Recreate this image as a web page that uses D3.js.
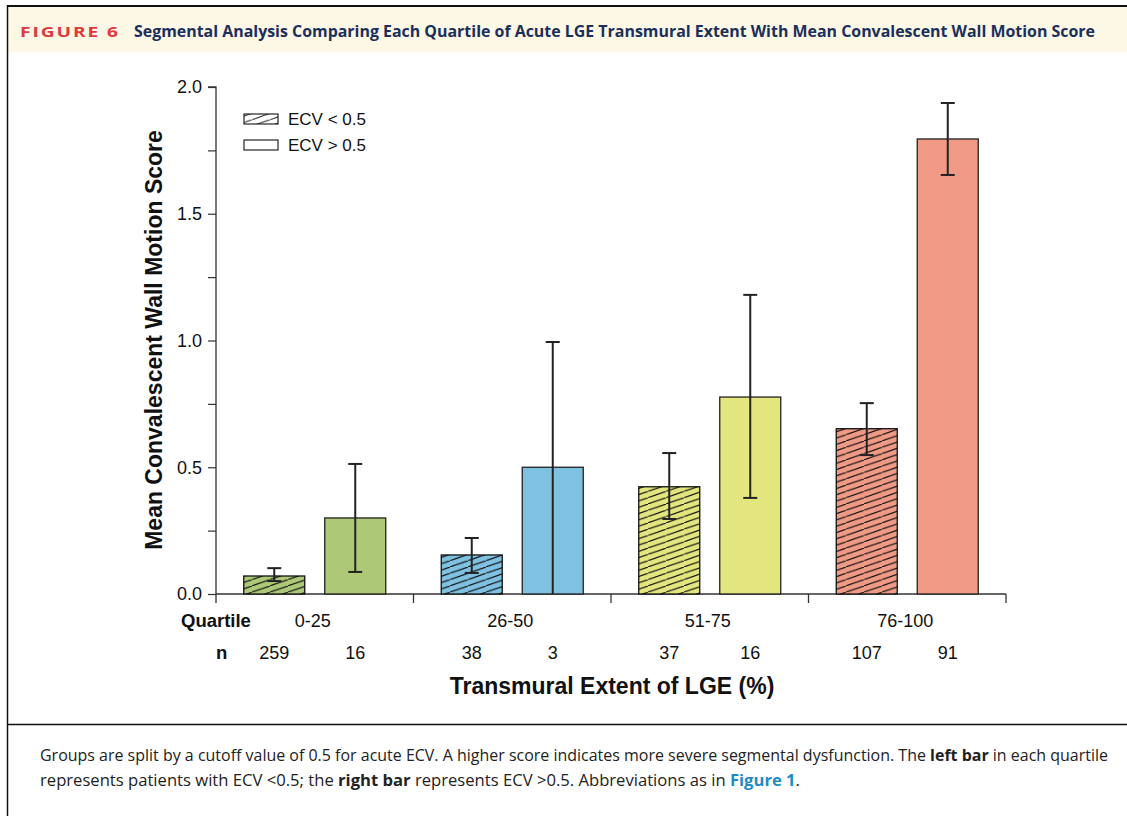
<!DOCTYPE html>
<html><head><meta charset="utf-8">
<script src="https://cdn.jsdelivr.net/npm/d3@7/dist/d3.min.js"></script>
<style>
html,body{margin:0;padding:0;background:#fff;}
svg{display:block;}
</style></head>
<body>
<script>
const quartiles = ["0-25","26-50","51-75","76-100"];
const groupColors = ["#adc977","#7ec1e1","#e3e67e","#f09a86"];
const lowMean = [0.071, 0.154, 0.423, 0.652];
const lowErrLo = [0.051, 0.083, 0.296, 0.548];
const lowErrHi = [0.102, 0.221, 0.556, 0.753];
const highMean = [0.300, 0.500, 0.777, 1.795];
const highErrLo = [0.087, 0.000, 0.379, 1.653];
const highErrHi = [0.513, 0.994, 1.180, 1.937];
const lowN = [259, 38, 37, 107];
const highN = [16, 3, 16, 91];
const yTicks = [0, 0.5, 1.0, 1.5, 2.0];
const yMinorTicks = [0.25, 0.75, 1.25, 1.75];

const W = 1127, H = 816;
const svg = d3.select("body").append("svg").attr("width", W).attr("height", H);
const defs = svg.append("defs");

// frame
svg.append("rect").attr("x",7).attr("y",6).attr("width",W-7).attr("height",46).attr("fill","#fdf7e6");
svg.append("line").attr("x1",7).attr("x2",W).attr("y1",6).attr("y2",6).attr("stroke","#111").attr("stroke-width",2);
svg.append("line").attr("x1",7.5).attr("x2",7.5).attr("y1",5).attr("y2",H).attr("stroke","#111").attr("stroke-width",1.5);
svg.append("line").attr("x1",7).attr("x2",W).attr("y1",724.5).attr("y2",724.5).attr("stroke","#111").attr("stroke-width",1.5);

// title
svg.append("text").attr("x",20).attr("y",37).attr("font-family","'Open Sans', 'Noto Sans', sans-serif").attr("font-weight","bold")
  .attr("fill","#e2383e").attr("font-size",15).attr("letter-spacing",1.5)
  .attr("textLength",100).attr("lengthAdjust","spacingAndGlyphs").text("FIGURE 6");
svg.append("text").attr("x",134).attr("y",37).attr("font-family","'Open Sans', 'Noto Sans', sans-serif")
  .attr("font-weight","bold").attr("font-size",16).attr("fill","#1b2f5c")
  .attr("textLength",961).attr("lengthAdjust","spacingAndGlyphs")
  .text("Segmental Analysis Comparing Each Quartile of Acute LGE Transmural Extent With Mean Convalescent Wall Motion Score");

// scales
const x0 = 216, x1 = 1006;
const xG = d3.scaleBand().domain(quartiles).range([x0, x1]).paddingInner(0).paddingOuter(0);
const xS = d3.scaleBand().domain(["low","high"]).range([0, xG.bandwidth()]).paddingInner(0.247).paddingOuter(0.3426);
const y = d3.scaleLinear().domain([0, 2]).range([594, 87]);

// hatch patterns (shallow lines rising to the right)
const TW = 18, TH = 6.3;
function addHatch(id, fill, sw){
  const p = defs.append("pattern").attr("id",id).attr("patternUnits","userSpaceOnUse")
    .attr("width",TW).attr("height",TH);
  p.append("rect").attr("width",TW).attr("height",TH).attr("fill",fill);
  [-1,0,1].forEach(k=>{
    p.append("line").attr("x1",0+k*TW).attr("y1",TH+(-k)*TH).attr("x2",TW+k*TW).attr("y2",0+(-k)*TH)
      .attr("stroke","#111").attr("stroke-width",sw);
  });
}
quartiles.forEach((q,i)=> addHatch("hatch"+i, groupColors[i], 1.1));
addHatch("hatchL", "#fff", 1.0);

const font = "'Liberation Sans', Arial, Helvetica, sans-serif";

// y axis
const yAxis = d3.axisLeft(y).tickValues(yTicks).tickFormat(d3.format(".1f")).tickSize(8).tickPadding(6);
const ga = svg.append("g").attr("transform",`translate(${x0},0)`).call(yAxis);
ga.select(".domain").attr("stroke","#333").attr("stroke-width",1.3).attr("d",`M-8,${y(2)}H0V${y(0)+0}`);
ga.selectAll(".tick line").attr("stroke","#333").attr("stroke-width",1.2);
ga.selectAll(".tick text").attr("font-family",font).attr("font-size",18).attr("fill","#111");
const gm = svg.append("g").attr("transform",`translate(${x0},0)`).call(d3.axisLeft(y).tickValues(yMinorTicks).tickSize(8).tickFormat(""));
gm.select(".domain").remove();
gm.selectAll(".tick line").attr("stroke","#333").attr("stroke-width",1.2);

// x axis baseline and group ticks
svg.append("line").attr("x1",x0).attr("x2",x1).attr("y1",y(0)).attr("y2",y(0)).attr("stroke","#333").attr("stroke-width",1.3);
const bounds = quartiles.map(q=>xG(q)).concat([x1]);
svg.selectAll(".gtick").data(bounds).join("line").attr("x1",d=>d).attr("x2",d=>d)
  .attr("y1",y(0)).attr("y2",y(0)+9).attr("stroke","#333").attr("stroke-width",1.3);

// bars
const bw = xS.bandwidth();
quartiles.forEach((q,i)=>{
  const g = svg.append("g");
  const xl = xG(q)+xS("low"), xh = xG(q)+xS("high");
  g.append("rect").attr("x",xl).attr("y",y(lowMean[i])).attr("width",bw).attr("height",y(0)-y(lowMean[i]))
    .attr("fill",`url(#hatch${i})`).attr("stroke","#111").attr("stroke-width",1.3);
  g.append("rect").attr("x",xh).attr("y",y(highMean[i])).attr("width",bw).attr("height",y(0)-y(highMean[i]))
    .attr("fill",groupColors[i]).attr("stroke","#222").attr("stroke-width",1.3);
  [[xl+bw/2, lowErrLo[i], lowErrHi[i]],[xh+bw/2, highErrLo[i], highErrHi[i]]].forEach(([cx,lo,hi])=>{
    g.append("line").attr("x1",cx).attr("x2",cx).attr("y1",y(lo)).attr("y2",y(hi)).attr("stroke","#222").attr("stroke-width",2);
    g.append("line").attr("x1",cx-7).attr("x2",cx+7).attr("y1",y(hi)).attr("y2",y(hi)).attr("stroke","#222").attr("stroke-width",2);
    if (lo > 0) g.append("line").attr("x1",cx-7).attr("x2",cx+7).attr("y1",y(lo)).attr("y2",y(lo)).attr("stroke","#222").attr("stroke-width",2);
  });
  // labels
  svg.append("text").attr("x",xG(q)+xG.bandwidth()/2-2).attr("y",627).attr("text-anchor","middle")
    .attr("font-family",font).attr("font-size",18).attr("fill","#111").text(q);
  svg.append("text").attr("x",xl+bw/2).attr("y",659).attr("text-anchor","middle")
    .attr("font-family",font).attr("font-size",18).attr("fill","#111").text(lowN[i]);
  svg.append("text").attr("x",xh+bw/2).attr("y",659).attr("text-anchor","middle")
    .attr("font-family",font).attr("font-size",18).attr("fill","#111").text(highN[i]);
});
svg.append("text").attr("x",181).attr("y",627).attr("font-family",font).attr("font-weight","bold").attr("font-size",18.5).attr("fill","#111").text("Quartile");
svg.append("text").attr("x",216).attr("y",659).attr("font-family",font).attr("font-weight","bold").attr("font-size",18.5).attr("fill","#111").text("n");

// axis titles
svg.append("text").attr("x",612).attr("y",694).attr("text-anchor","middle").attr("font-family",font)
  .attr("font-weight","bold").attr("font-size",23).attr("fill","#111").text("Transmural Extent of LGE (%)");
svg.append("text").attr("transform","translate(162,340) rotate(-90)").attr("text-anchor","middle").attr("font-family",font)
  .attr("font-weight","bold").attr("font-size",23).attr("fill","#111").text("Mean Convalescent Wall Motion Score");

// legend
const legend = [["ECV < 0.5","url(#hatchL)"],["ECV > 0.5","#fff"]];
legend.forEach((d,i)=>{
  svg.append("rect").attr("x",244).attr("y",114+i*26).attr("width",34).attr("height",10)
    .attr("fill",d[1]).attr("stroke","#111").attr("stroke-width",1.1);
  svg.append("text").attr("x",288).attr("y",125+i*26).attr("font-family",font).attr("font-size",17).attr("fill","#111").text(d[0]);
});

// caption
const cf = "'Open Sans', 'Noto Sans', sans-serif";
const c1 = svg.append("text").attr("x",40).attr("y",761).attr("font-family",cf).attr("font-size",15.5).attr("fill","#222")
  .attr("textLength",1068).attr("lengthAdjust","spacingAndGlyphs");
c1.append("tspan").text("Groups are split by a cutoff value of 0.5 for acute ECV. A higher score indicates more severe segmental dysfunction. The ");
c1.append("tspan").attr("font-weight","bold").text("left bar");
c1.append("tspan").text(" in each quartile");
const c2 = svg.append("text").attr("x",40).attr("y",786).attr("font-family",cf).attr("font-size",15.5).attr("fill","#222")
  .attr("textLength",760).attr("lengthAdjust","spacingAndGlyphs");
c2.append("tspan").text("represents patients with ECV <0.5; the ");
c2.append("tspan").attr("font-weight","bold").text("right bar");
c2.append("tspan").text(" represents ECV >0.5. Abbreviations as in ");
c2.append("tspan").attr("font-weight","bold").attr("fill","#1c8bc6").text("Figure 1");
c2.append("tspan").text(".");
</script>
</body></html>
